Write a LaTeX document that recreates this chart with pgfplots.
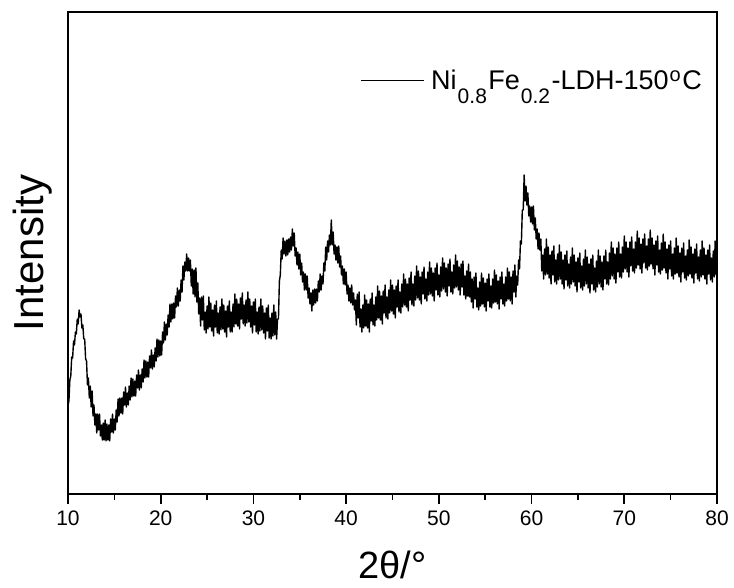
\documentclass[border=0pt]{standalone}
\usepackage{fontspec}
\setmainfont{Liberation Sans}
\usepackage{pgfplots}
\usepackage{pgfplotstable}
\pgfplotsset{compat=1.18}
\pgfplotstableread{
x y
10.0 89
10.1 93
10.2 114
10.3 118
10.4 137
10.5 136
10.6 153
10.7 149
10.8 162
10.9 160
11.0 175
11.1 170
11.2 184
11.3 177
11.4 180
11.5 166
11.6 169
11.7 155
11.8 155
11.9 135
12.0 133
12.1 109
12.2 116
12.3 96
12.4 108
12.5 87
12.6 103
12.7 78
12.8 89
12.9 69
13.0 80
13.1 61
13.2 80
13.3 64
13.4 80
13.5 58
13.6 69
13.7 54
13.8 71
13.9 54
14.0 74
14.1 53
14.2 70
14.3 54
14.4 69
14.5 53
14.6 75
14.7 62
14.8 80
14.9 61
15.0 75
15.1 64
15.2 84
15.3 72
15.4 95
15.5 78
15.6 96
15.7 81
15.8 96
15.9 80
16.0 102
16.1 89
16.2 107
16.3 87
16.4 101
16.5 89
16.6 108
16.7 94
16.8 116
16.9 97
17.0 115
17.1 98
17.2 113
17.3 98
17.4 119
17.5 106
17.6 124
17.7 104
17.8 119
17.9 106
18.0 125
18.1 112
18.2 134
18.3 116
18.4 133
18.5 117
18.6 132
18.7 117
18.8 138
18.9 126
19.0 144
19.1 125
19.2 139
19.3 127
19.4 146
19.5 133
19.6 155
19.7 137
19.8 154
19.9 138
20.0 153
20.1 139
20.2 162
20.3 151
20.4 172
20.5 154
20.6 170
20.7 159
20.8 179
20.9 167
21.0 190
21.1 172
21.2 190
21.3 175
21.4 191
21.5 176
21.6 198
21.7 187
21.8 206
21.9 188
22.0 204
22.1 193
22.2 214
22.3 202
22.4 228
22.5 214
22.6 232
22.7 223
22.8 240
22.9 223
23.0 236
23.1 223
23.2 234
23.3 208
23.4 225
23.5 200
23.6 224
23.7 197
23.8 226
23.9 192
24.0 211
24.1 180
24.2 196
24.3 168
24.4 197
24.5 174
24.6 198
24.7 164
24.8 182
24.9 161
25.0 188
25.1 165
25.2 197
25.3 167
25.4 191
25.5 163
25.6 184
25.7 158
25.8 189
25.9 167
26.0 193
26.1 161
26.2 181
26.3 160
26.4 187
26.5 164
26.6 195
26.7 165
26.8 189
26.9 162
27.0 183
27.1 157
27.2 188
27.3 167
27.4 193
27.5 162
27.6 182
27.7 162
27.8 190
27.9 167
28.0 200
28.1 170
28.2 195
28.3 168
28.4 190
28.5 165
28.6 196
28.7 175
28.8 201
28.9 170
29.0 189
29.1 168
29.2 194
29.3 171
29.4 202
29.5 172
29.6 195
29.7 167
29.8 188
29.9 161
30.0 192
30.1 169
30.2 195
30.3 162
30.4 182
30.5 160
30.6 187
30.7 163
30.8 195
30.9 164
31.0 188
31.1 161
31.2 181
31.3 155
31.4 186
31.5 163
31.6 189
31.7 156
31.8 176
31.9 155
32.0 181
32.1 158
32.2 189
32.3 159
32.4 182
32.5 155
32.6 175
32.7 175
32.8 213
32.9 219
33.0 244
33.1 235
33.2 256
33.3 240
33.4 253
33.5 238
33.6 254
33.7 239
33.8 255
33.9 242
34.0 257
34.1 244
34.2 265
34.3 248
34.4 261
34.5 238
34.6 246
34.7 229
34.8 242
34.9 225
35.0 240
35.1 219
35.2 231
35.3 212
35.4 222
35.5 204
35.6 220
35.7 204
35.8 218
35.9 196
36.0 206
36.1 190
36.2 201
36.3 183
36.4 204
36.5 189
36.6 205
36.7 191
36.8 205
36.9 193
37.0 213
37.1 202
37.2 220
37.3 204
37.4 218
37.5 210
37.6 231
37.7 223
37.8 247
37.9 234
38.0 253
38.1 242
38.2 259
38.3 249
38.4 274
38.5 249
38.6 262
38.7 240
38.8 249
38.9 234
39.0 247
39.1 231
39.2 248
39.3 227
39.4 238
39.5 219
39.6 228
39.7 210
39.8 225
39.9 209
40.0 222
40.1 200
40.2 209
40.3 193
40.4 206
40.5 191
40.6 209
40.7 189
40.8 201
40.9 184
41.0 194
41.1 169
41.2 200
41.3 176
41.4 202
41.5 167
41.6 185
41.7 162
41.8 189
41.9 166
42.0 199
42.1 168
42.2 194
42.3 166
42.4 190
42.5 162
42.6 195
42.7 173
42.8 201
42.9 169
43.0 189
43.1 168
43.2 197
43.3 174
43.4 208
43.5 176
43.6 203
43.7 174
43.8 198
43.9 170
44.0 203
44.1 181
44.2 209
44.3 176
44.4 197
44.5 175
44.6 204
44.7 181
44.8 214
44.9 183
45.0 209
45.1 180
45.2 204
45.3 176
45.4 208
45.5 187
45.6 214
45.7 182
45.8 202
45.9 181
46.0 210
46.1 187
46.2 220
46.3 189
46.4 215
46.5 187
46.6 210
46.7 183
46.8 216
46.9 194
47.0 222
47.1 189
47.2 210
47.3 188
47.4 218
47.5 194
47.6 228
47.7 196
47.8 223
47.9 194
48.0 217
48.1 190
48.2 222
48.3 200
48.4 227
48.5 195
48.6 215
48.7 193
48.8 222
48.9 199
49.0 232
49.1 200
49.2 226
49.3 198
49.4 221
49.5 193
49.6 226
49.7 204
49.8 231
49.9 199
50.0 219
50.1 197
50.2 227
50.3 203
50.4 236
50.5 205
50.6 231
50.7 202
50.8 226
50.9 198
51.0 230
51.1 208
51.2 235
51.3 202
51.4 222
51.5 200
51.6 229
51.7 206
51.8 239
51.9 207
52.0 233
52.1 204
52.2 227
52.3 199
52.4 230
52.5 207
52.6 233
52.7 199
52.8 218
52.9 195
53.0 223
53.1 198
53.2 230
53.3 197
53.4 222
53.5 192
53.6 215
53.7 186
53.8 217
53.9 195
54.0 221
54.1 187
54.2 206
54.3 184
54.4 212
54.5 188
54.6 221
54.7 190
54.8 216
54.9 187
55.0 211
55.1 183
55.2 215
55.3 193
55.4 220
55.5 187
55.6 208
55.7 186
55.8 215
55.9 191
56.0 224
56.1 192
56.2 219
56.3 190
56.4 213
56.5 185
56.6 217
56.7 195
56.8 222
56.9 190
57.0 210
57.1 188
57.2 217
57.3 193
57.4 226
57.5 195
57.6 222
57.7 193
57.8 217
57.9 190
58.0 223
58.1 202
58.2 229
58.3 197
58.4 218
58.5 209
58.6 234
58.7 225
58.8 253
58.9 250
59.0 284
59.1 284
59.2 319
59.3 293
59.4 308
59.5 289
59.6 301
59.7 278
59.8 288
59.9 272
60.0 287
60.1 270
60.2 288
60.3 264
60.4 276
60.5 255
60.6 265
60.7 245
60.8 261
60.9 244
61.0 255
61.1 223
61.2 239
61.3 215
61.4 245
61.5 219
61.6 255
61.7 220
61.8 247
61.9 216
62.0 239
62.1 210
62.2 243
62.3 219
62.4 248
62.5 212
62.6 234
62.7 210
62.8 240
62.9 214
63.0 249
63.1 215
63.2 242
63.3 210
63.4 234
63.5 205
63.6 239
63.7 214
63.8 243
63.9 208
64.0 230
64.1 206
64.2 237
64.3 210
64.4 246
64.5 212
64.6 239
64.7 208
64.8 232
64.9 202
65.0 236
65.1 212
65.2 241
65.3 206
65.4 228
65.5 204
65.6 235
65.7 208
65.8 244
65.9 210
66.0 237
66.1 206
66.2 230
66.3 201
66.4 235
66.5 210
66.6 239
66.7 204
66.8 226
66.9 202
67.0 233
67.1 207
67.2 244
67.3 210
67.4 238
67.5 207
67.6 232
67.7 204
67.8 238
67.9 215
68.0 244
68.1 210
68.2 232
68.3 209
68.4 241
68.5 215
68.6 252
68.7 218
68.8 246
68.9 215
69.0 240
69.1 211
69.2 246
69.3 222
69.4 252
69.5 217
69.6 240
69.7 216
69.8 247
69.9 222
70.0 258
70.1 225
70.2 252
70.3 222
70.4 246
70.5 217
70.6 252
70.7 228
70.8 257
70.9 223
71.0 245
71.1 221
71.2 252
71.3 226
71.4 263
71.5 229
71.6 256
71.7 225
71.8 250
71.9 221
72.0 255
72.1 231
72.2 260
72.3 226
72.4 248
72.5 224
72.6 255
72.7 228
72.8 264
72.9 230
73.0 256
73.1 225
73.2 249
73.3 219
73.4 253
73.5 229
73.6 258
73.7 222
73.8 244
73.9 220
74.0 251
74.1 224
74.2 260
74.3 226
74.4 252
74.5 221
74.6 245
74.7 215
74.8 249
74.9 225
75.0 253
75.1 218
75.2 240
75.3 215
75.4 246
75.5 220
75.6 256
75.7 221
75.8 248
75.9 217
76.0 241
76.1 212
76.2 246
76.3 222
76.4 251
76.5 216
76.6 238
76.7 214
76.8 244
76.9 218
77.0 254
77.1 220
77.2 247
77.3 216
77.4 240
77.5 211
77.6 245
77.7 221
77.8 250
77.9 215
78.0 237
78.1 213
78.2 244
78.3 217
78.4 253
78.5 219
78.6 246
78.7 215
78.8 239
78.9 210
79.0 244
79.1 220
79.2 249
79.3 214
79.4 236
79.5 212
79.6 243
79.7 217
79.8 253
79.9 219
80.0 246
}\xrd
\begin{document}
\begin{tikzpicture}
\useasboundingbox (0,0) rectangle (734pt,588pt);
\begin{axis}[
  at={(68pt,94pt)}, anchor=south west,
  scale only axis, width=649pt, height=482pt,
  xmin=10, xmax=80, ymin=0, ymax=482,
  xtick={10,20,...,80}, minor x tick num=1,
  ytick=\empty,
  xtick pos=bottom, tick align=outside,
  major tick length=10pt, minor tick length=6pt,
  tick style={black, line width=1.6pt},
  axis line style={line width=1.8pt},
  tick label style={font=\fontsize{21}{21}\selectfont},
  xticklabel style={yshift=-3pt},
  /pgf/number format/assume math mode=true,
  legend style={draw=none, fill=none, at={(rel axis cs:0.45,0.857)}, anchor=west,
    inner sep=0pt, column sep=5pt, font=\fontsize{27}{27}\selectfont},
  legend image code/.code={\draw[black, line width=1pt] (0pt,0pt) -- (63pt,0pt);},
]
\addplot[black, line width=1.4pt, line join=round] table[x=x, y=y] {\xrd};
\addlegendentry{Ni\kern1pt{\fontsize{21}{21}\selectfont\raisebox{-14pt}{0.8}}\kern1.5ptFe\kern1pt{\fontsize{21}{21}\selectfont\raisebox{-14pt}{0.2}}\kern1.5pt-LDH-150\kern1pt{\fontsize{20}{20}\selectfont\raisebox{8pt}{o}}\kern1.5ptC}
\end{axis}
\node[rotate=90, anchor=base, font=\fontsize{42}{42}\selectfont] at (43pt,335pt) {Intensity};
\node[anchor=base, font=\fontsize{38}{38}\selectfont] at (392.5pt,9pt) {2θ/°};
\end{tikzpicture}
\end{document}
